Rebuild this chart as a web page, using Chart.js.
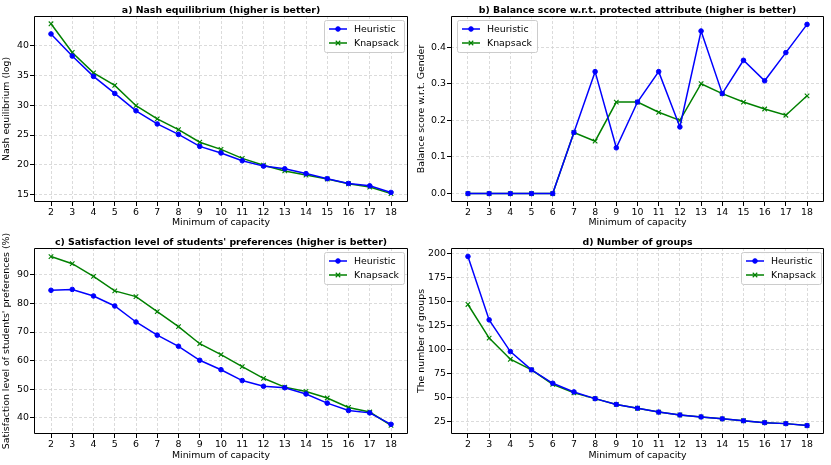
<!DOCTYPE html>
<html>
<head>
<meta charset="utf-8">
<script src="https://cdn.jsdelivr.net/npm/chart.js@4/dist/chart.umd.min.js"></script>
<style>
html,body{margin:0;padding:0;background:#fff;}
#wrap{position:relative;width:831px;height:465px;font-family:'DejaVu Sans',sans-serif;}
.panel{position:absolute;}
.ttl{position:absolute;text-align:center;font-weight:bold;font-size:9.4px;line-height:12px;color:#000;white-space:nowrap;}
</style>
</head>
<body>
<div id="wrap">
  <div class="panel" style="left:0;top:0;width:415px;height:232px"><canvas id="chartA"></canvas></div>
  <div class="panel" style="left:415px;top:0;width:416px;height:232px"><canvas id="chartB"></canvas></div>
  <div class="panel" style="left:0;top:232px;width:415px;height:233px"><canvas id="chartC"></canvas></div>
  <div class="panel" style="left:415px;top:232px;width:416px;height:233px"><canvas id="chartD"></canvas></div>
  <div class="ttl" style="left:34px;top:4px;width:374px">a) Nash equilibrium (higher is better)</div>
  <div class="ttl" style="left:451px;top:4px;width:373px">b) Balance score w.r.t. protected attribute (higher is better)</div>
  <div class="ttl" style="left:34px;top:236px;width:374px">c) Satisfaction level of students' preferences (higher is better)</div>
  <div class="ttl" style="left:451px;top:236px;width:373px">d) Number of groups</div>
</div>
<script>
const capacity = [2,3,4,5,6,7,8,9,10,11,12,13,14,15,16,17,18];

const nashHeuristic = [41.9,38.2,34.8,31.95,29.05,26.85,25.1,23.1,22.0,20.7,19.8,19.35,18.55,17.7,16.9,16.5,15.4];
const nashKnapsack  = [43.6,38.8,35.4,33.3,29.9,27.7,25.9,23.8,22.6,21.1,19.95,19.0,18.3,17.65,16.85,16.3,15.2];
const nashTicks = [15,20,25,30,35,40];

const balanceHeuristic = [0,0,0,0,0,0.167,0.333,0.125,0.25,0.333,0.182,0.444,0.273,0.364,0.308,0.385,0.462];
const balanceKnapsack  = [0,0,0,0,0,0.167,0.143,0.25,0.25,0.222,0.2,0.3,0.273,0.25,0.231,0.214,0.267];
const balanceTicks = [0,0.1,0.2,0.3,0.4];

const satisfactionHeuristic = [84.6,84.9,82.6,79.1,73.5,68.9,65.0,60.1,56.8,53.0,51.0,50.5,48.3,45.1,42.5,41.7,37.7];
const satisfactionKnapsack  = [96.4,93.9,89.5,84.4,82.4,77.1,71.9,65.9,62.1,57.9,53.8,50.7,49.2,46.9,43.6,42.0,37.3];
const satisfactionTicks = [40,50,60,70,80,90];

const groupsHeuristic = [197,131,98,79,65,56,49,43,39,35,32,30,28,26,24,23,21];
const groupsKnapsack  = [147,112,90,79,64,55,49,43,39,35,32,30,28,26,24,23,21];
const groupsTicks = [25,50,75,100,125,150,175,200];

const seriesNames = ['Heuristic','Knapsack'];

Chart.defaults.font.family = "'DejaVu Sans', sans-serif";
Chart.defaults.font.size = 9.4;
Chart.defaults.color = '#000';

// box round the axes + legend inside them (matplotlib style)
const axesDecor = {
  id:'axesDecor',
  afterDraw(chart, args, opts){
    const {ctx, chartArea:a} = chart;
    ctx.save();
    ctx.strokeStyle = '#000'; ctx.lineWidth = 1;
    const l = Math.round(a.left)+0.5, t = Math.round(a.top)+0.5, r = Math.round(a.right)-0.5, b = Math.round(a.bottom)-0.5;
    ctx.beginPath(); ctx.rect(l, t, r-l, b-t); ctx.stroke();

    const w = 80, h = 32;
    const x = opts.side === 'left' ? a.left + 6 : a.right - opts.inset - w;
    const y = a.top + 4;
    ctx.fillStyle = 'rgba(255,255,255,0.85)';
    ctx.strokeStyle = '#cccccc';
    ctx.beginPath(); ctx.roundRect(Math.round(x)+0.5, Math.round(y)+0.5, w, h, 2); ctx.fill(); ctx.stroke();
    chart.data.datasets.forEach((ds,i)=>{
      const cy = y + 9 + i*14;
      ctx.strokeStyle = ds.borderColor; ctx.fillStyle = ds.backgroundColor; ctx.lineWidth = ds.borderWidth;
      ctx.beginPath(); ctx.moveTo(x+5, cy); ctx.lineTo(x+23, cy); ctx.stroke();
      ctx.lineWidth = ds.pointBorderWidth;
      Chart.helpers.drawPoint(ctx, {pointStyle: ds.pointStyle, radius: ds.pointRadius, borderWidth: ds.pointBorderWidth, rotation:0}, x+14, cy);
      ctx.fillStyle = '#000';
      ctx.font = "9.4px 'DejaVu Sans', sans-serif";
      ctx.textBaseline = 'middle';
      ctx.fillText(ds.label, x+30, cy+0.5);
    });
    ctx.restore();
  }
};

function makePanel(id, yLabel, heur, knap, yMin, yMax, yTicks, decimals, side, inset, axisW, axisH){
  const toPts = vals => capacity.map((c,i)=>({x:c, y:vals[i]}));
  const gridOpts = {color:'#d2d2d2', lineWidth:0.8, tickColor:'#000', tickLength:4, tickWidth:1, tickBorderDash:[]};
  const borderOpts = {display:false, dash:[3,2]};
  new Chart(document.getElementById(id), {
    type:'line',
    data:{datasets:[
      {label:seriesNames[0], data:toPts(heur), borderColor:'#0000ff', backgroundColor:'#0000ff', borderWidth:1.5,
       pointStyle:'circle', pointRadius:2.3, pointBorderWidth:1, pointHoverRadius:2.3, tension:0},
      {label:seriesNames[1], data:toPts(knap), borderColor:'#008000', backgroundColor:'#008000', borderWidth:1.5,
       pointStyle:'crossRot', pointRadius:3.2, pointBorderWidth:1.1, pointHoverRadius:3.2, tension:0}
    ]},
    options:{
      responsive:true, maintainAspectRatio:false, animation:false, events:[],
      layout:{padding:{top:16, right:7, left:0, bottom:0}},
      plugins:{legend:{display:false}, tooltip:{enabled:false}, axesDecor:{side, inset}},
      scales:{
        x:{type:'linear', min:1.2, max:18.8,
           afterBuildTicks:s=>{s.ticks = capacity.map(v=>({value:v}));},
           afterFit:s=>{s.height = axisH;},
           ticks:{padding:1, maxRotation:0, autoSkip:false},
           grid:gridOpts, border:borderOpts,
           title:{display:true, text:'Minimum of capacity', padding:{top:0,bottom:4}}},
        y:{type:'linear', min:yMin, max:yMax,
           afterBuildTicks:s=>{s.ticks = yTicks.map(v=>({value:v}));},
           afterFit:s=>{s.width = axisW;},
           ticks:{padding:1, callback:v=>v.toFixed(decimals)},
           grid:gridOpts, border:borderOpts,
           title:{display:true, text:yLabel, padding:{top:1,bottom:0}}}
      }
    },
    plugins:[axesDecor]
  });
}

makePanel('chartA', 'Nash equilibrium (log)', nashHeuristic, nashKnapsack, 13.8, 44.9, nashTicks, 0, 'right', 4, 34, 30);
makePanel('chartB', 'Balance score w.r.t. Gender', balanceHeuristic, balanceKnapsack, -0.023, 0.485, balanceTicks, 1, 'left', 0, 36, 30);
makePanel('chartC', "Satisfaction level of students' preferences (%)", satisfactionHeuristic, satisfactionKnapsack, 34.3, 99.4, satisfactionTicks, 0, 'right', 4, 34, 31);
makePanel('chartD', 'The number of groups', groupsHeuristic, groupsKnapsack, 12.2, 205.8, groupsTicks, 0, 'right', 3, 36, 31);
</script>
</body>
</html>
